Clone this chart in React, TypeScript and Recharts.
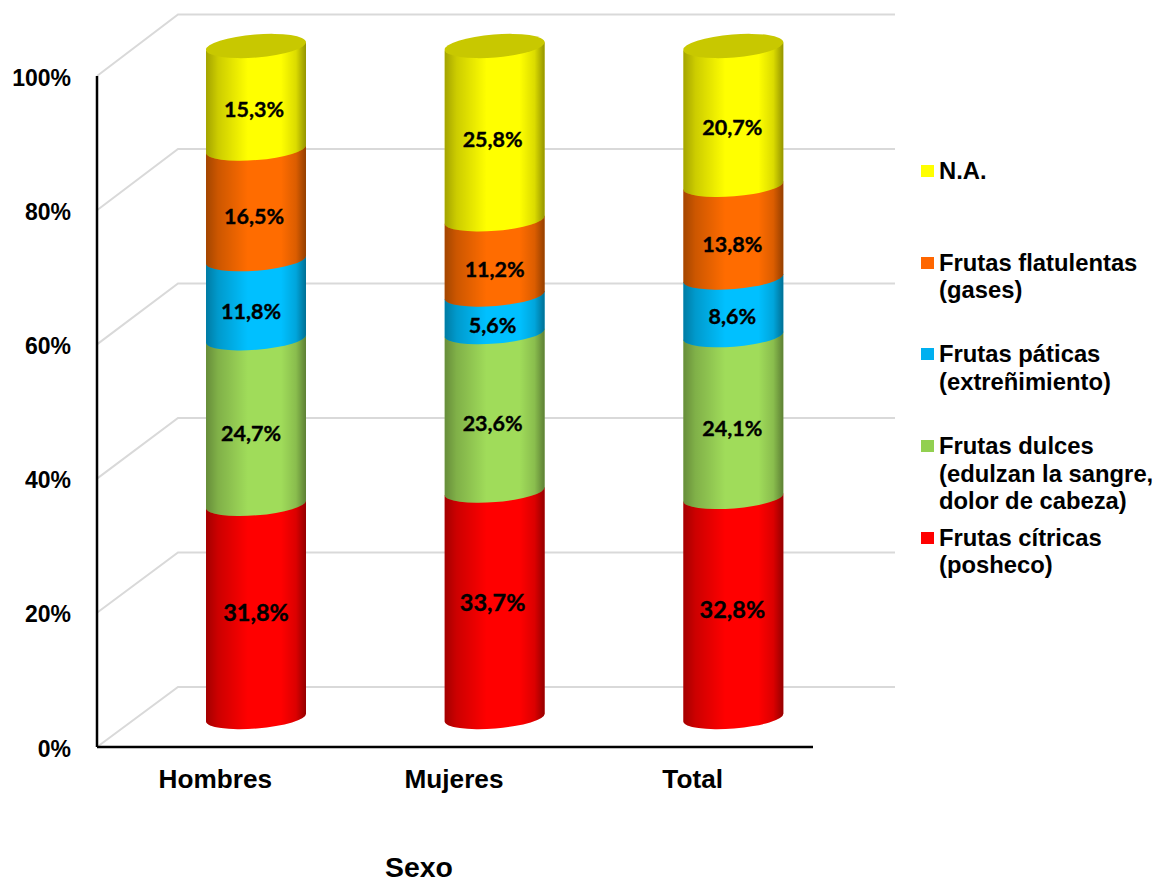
import React from 'react';
import { BarChart, Bar, XAxis, YAxis, CartesianGrid, Legend, LabelList } from 'recharts';

const categories = ['Hombres', 'Mujeres', 'Total'];
const citricas = [31.8, 33.7, 32.8];
const dulces = [24.7, 23.6, 24.1];
const paticas = [11.8, 5.6, 8.6];
const flatulentas = [16.5, 11.2, 13.8];
const noAplica = [15.3, 25.8, 20.7];

const seriesKeys = ['citricas', 'dulces', 'paticas', 'flatulentas', 'noAplica'];
const seriesNames = [
  'Frutas cítricas\n(posheco)',
  'Frutas dulces\n(edulzan la sangre,\ndolor de cabeza)',
  'Frutas páticas\n(extreñimiento)',
  'Frutas flatulentas\n(gases)',
  'N.A.',
];

const yTicks = [0, 0.2, 0.4, 0.6, 0.8, 1];

const rows = categories.map((sexo, i) => ({
  sexo,
  citricas: citricas[i],
  dulces: dulces[i],
  paticas: paticas[i],
  flatulentas: flatulentas[i],
  noAplica: noAplica[i],
}));

const seriesStyles = [
  { swatch: '#ff0000', body: '#ff0000', labelSize: 23.5, labelDy: [1, -2, 2], labelDx: [0, -2, -1] },
  { swatch: '#92d050', body: '#a0dc5a', labelSize: 21.5, labelDy: [11, 11, 11.5], labelDx: [-5, -2, -1] },
  { swatch: '#00b0f0', body: '#00c0ff', labelSize: 21.5, labelDy: [11.5, 11, 9], labelDx: [-5, -2, -1] },
  { swatch: '#ff6600', body: '#ff6c00', labelSize: 21.5, labelDy: [12, 11.5, 12], labelDx: [-2, 0, -1] },
  { swatch: '#ffff00', body: '#ffff00', labelSize: 21.5, labelDy: [11, 6, 11], labelDx: [-2, -2, -1] },
];

const ARIAL = '"Liberation Sans", Arial, sans-serif';
const AXIS_Y = 747;
const PLOT_HEIGHT = 671;
const DEPTH_X = 40;
const DEPTH_Y = 29.5;
const BACK_X = 81;
const BACK_Y_FLOOR = 60;
const BACK_Y_RISE = 1.5;
const TILT = 4;
const ELLIPSE_RY = 11;

// One stacked segment of the cylinder; the curved lower edge overlaps the segment beneath it.
function cylinderShape(body: string, isTop: boolean) {
  return function CylinderSegment(props: any) {
    const { x, y, width, height } = props;
    const left = x + DEPTH_X;
    const right = left + width;
    const top = y - DEPTH_Y;
    const bottom = top + height;
    const rx = Math.hypot(width, TILT * 2) / 2;
    const angle = (Math.atan2(-TILT * 2, width) * 180) / Math.PI;
    const d = `M${left},${top + TILT} L${right},${top - TILT} L${right},${bottom - TILT} A${rx},${ELLIPSE_RY} ${angle} 0 1 ${left},${bottom + TILT} Z`;
    return (
      <g>
        <path d={d} fill={body} />
        <path d={d} fill="url(#cylinderShade)" />
        {isTop && (
          <ellipse
            cx={left + width / 2}
            cy={top - 0.5}
            rx={rx}
            ry={ELLIPSE_RY + 0.5}
            fill="#c8c800"
            transform={`rotate(${angle} ${left + width / 2} ${top - 0.5})`}
          />
        )}
      </g>
    );
  };
}

// Floor-and-wall grid line: a slanted run from the axis, then across the back wall.
function wallLine(props: any) {
  const { x1, y1, x2, key } = props;
  const backY = y1 - BACK_Y_FLOOR - ((AXIS_Y - y1) / PLOT_HEIGHT) * BACK_Y_RISE;
  return (
    <polyline
      key={key}
      points={`${x1},${y1} ${x1 + BACK_X},${backY} ${x2 + BACK_X + 1},${backY}`}
      fill="none"
      stroke="#d9d9d9"
      strokeWidth={2}
    />
  );
}

function valueLabel(size: number, dys: number[], dxs: number[]) {
  return function ValueLabel(props: any) {
    const { x, y, width, height, value, index } = props;
    return (
      <text
        x={x + width / 2 + DEPTH_X + dxs[index]}
        y={y + height / 2 - DEPTH_Y + dys[index]}
        textAnchor="middle"
        dominantBaseline="central"
        fontFamily="Lato, sans-serif"
        fontWeight={700}
        fontSize={size}
        fill="#000"
        stroke="#000"
        strokeWidth={0.35}
      >
        {`${String(value).replace('.', ',')}%`}
      </text>
    );
  };
}

function LegendList({ payload }: any) {
  const items = [...(payload ?? [])].reverse();
  return (
    <div style={{ fontFamily: ARIAL, fontWeight: 700, fontSize: 23.8, lineHeight: '27.6px', color: '#000' }}>
      {items.map((item: any) => (
        <div key={item.value} style={{ height: 91.7, display: 'flex', alignItems: 'flex-start' }}>
          <span style={{ width: 13, height: 12, marginTop: 8, marginRight: 5, flex: 'none', background: item.color }} />
          <span style={{ whiteSpace: 'pre-line' }}>{item.value}</span>
        </div>
      ))}
    </div>
  );
}

export default function App() {
  return (
    <div style={{ position: 'absolute', left: 0, top: 0 }}>
      <BarChart
        width={1155}
        height={882}
        data={rows}
        stackOffset="expand"
        margin={{ top: 76, right: 108, bottom: 0, left: 0 }}
      >
        <defs>
          <linearGradient id="cylinderShade" x1="0" y1="0" x2="1" y2="0">
            <stop offset="0" stopColor="#000" stopOpacity={0.36} />
            <stop offset="0.12" stopColor="#000" stopOpacity={0.2} />
            <stop offset="0.42" stopColor="#000" stopOpacity={0} />
            <stop offset="0.75" stopColor="#000" stopOpacity={0} />
            <stop offset="0.9" stopColor="#000" stopOpacity={0.14} />
            <stop offset="1" stopColor="#000" stopOpacity={0.42} />
          </linearGradient>
        </defs>
        <CartesianGrid vertical={false} horizontal={wallLine} />
        <XAxis
          dataKey="sexo"
          height={135}
          axisLine={{ stroke: '#000', strokeWidth: 2.5 }}
          tickLine={false}
          tickMargin={16}
          tick={{ fontFamily: ARIAL, fontWeight: 700, fontSize: 26.2, fill: '#000', dx: -1 }}
          label={{
            value: 'Sexo',
            position: 'insideBottom',
            dx: -36,
            dy: 0,
            fontFamily: ARIAL,
            fontWeight: 700,
            fontSize: 28.4,
            fill: '#000',
          }}
        />
        <YAxis
          width={97}
          domain={[0, 1]}
          ticks={yTicks}
          axisLine={{ stroke: '#000', strokeWidth: 2.5 }}
          tickLine={false}
          tickMargin={20}
          tickFormatter={(v: number) => `${Math.round(v * 100)}%`}
          tick={{ fontFamily: ARIAL, fontWeight: 700, fontSize: 23, fill: '#000', dy: 1.5 }}
        />
        {seriesKeys.map((key, i) => (
          <Bar
            key={key}
            dataKey={key}
            name={seriesNames[i]}
            stackId="sexo"
            fill={seriesStyles[i].swatch}
            barSize={100}
            isAnimationActive={false}
            shape={cylinderShape(seriesStyles[i].body, i === seriesKeys.length - 1)}
          >
            <LabelList
              dataKey={key}
              content={valueLabel(seriesStyles[i].labelSize, seriesStyles[i].labelDy, seriesStyles[i].labelDx)}
            />
          </Bar>
        ))}
        <Legend
          layout="vertical"
          align="right"
          verticalAlign="top"
          itemSorter={null}
          content={<LegendList />}
          wrapperStyle={{ left: 921, top: 157, width: 234, right: 'auto', bottom: 'auto' }}
        />
      </BarChart>
    </div>
  );
}
